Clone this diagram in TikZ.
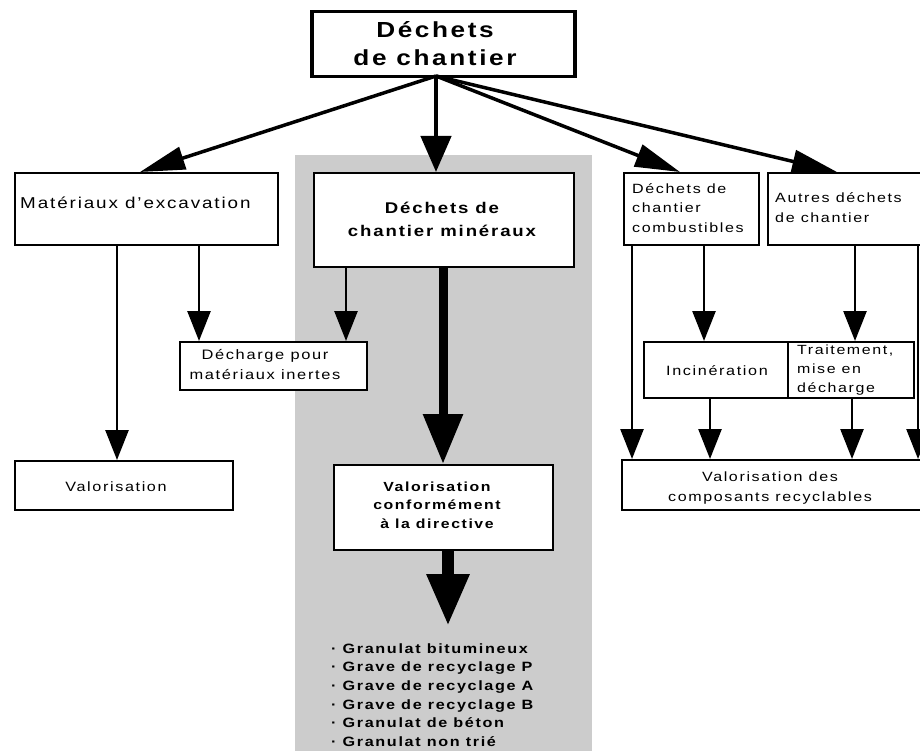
\documentclass[tikz,border=0pt]{standalone}
\usepackage{fontspec}
\setmainfont[FakeStretch=1.2,LetterSpace=12]{Liberation Sans}
\usetikzlibrary{arrows.meta}
\definecolor{bandgray}{HTML}{CCCCCC}
\newcommand{\fsz}[2]{\fontsize{#1}{#2}\selectfont}
\begin{document}
\begin{tikzpicture}[x=1pt,y=-1pt,
  box/.style={draw=black, line width=1.8pt, fill=white, inner sep=0pt, anchor=north west},
  lbl/.style={inner sep=0pt, text=black},
  thinarr/.style={line width=2.6pt, -{Triangle[length=30pt,width=23pt]}},
  diagarr/.style={line width=3.5pt, -{Triangle[length=45pt,width=23pt]}},
  mainarr/.style={line width=4.5pt, -{Triangle[length=36pt,width=30pt]}},
  bigarrA/.style={line width=9pt, -{Triangle[length=50pt,width=38pt]}},
  bigarrB/.style={line width=12pt, -{Triangle[length=52pt,width=40pt]}},
]
\useasboundingbox (0,0) rectangle (920,751);
\clip (0,0) rectangle (920,751);
\fill[bandgray] (295,155) rectangle (592,760);

% boxes
\node[box, line width=3.5pt, minimum width=263pt, minimum height=65pt] (top) at (310,10) {};
\node[box, minimum width=263pt, minimum height=72pt] (excav) at (14,172) {};
\node[box, minimum width=260pt, minimum height=94pt] (mineral) at (313,172) {};
\node[box, minimum width=135pt, minimum height=72pt] (comb) at (623,172) {};
\node[box, minimum width=170pt, minimum height=72pt] (autres) at (767,172) {};
\node[box, minimum width=187pt, minimum height=48pt] (decharge) at (179,341) {};
\node[box, minimum width=144pt, minimum height=56pt] (incin) at (643,341) {};
\node[box, minimum width=126pt, minimum height=56pt] (trait) at (787,341) {};
\node[box, minimum width=218pt, minimum height=49pt] (valL) at (14,460) {};
\node[box, minimum width=219pt, minimum height=85pt] (valconf) at (333,464) {};
\node[box, minimum width=320pt, minimum height=50pt] (valcomp) at (621,459) {};

% texts
\node[lbl, font=\bfseries\fsz{21.8}{28}, align=center] (ttop) at (435,44) {Déchets\\de chantier};
\node[lbl, font=\fsz{15.7}{18}, anchor=west] (tmat) at (20,203) {Matériaux d'excavation};
\node[lbl, font=\bfseries\fsz{15.5}{23}, align=center] (tmin) at (442,219) {Déchets de\\chantier minéraux};
\node[lbl, font=\fsz{13.4}{19.5}, align=left, anchor=west] (tcomb) at (632,208) {Déchets de\\chantier\\combustibles};
\node[lbl, font=\fsz{13.4}{19.5}, align=left, anchor=west] (taut) at (775,207.5) {Autres déchets\\de chantier};
\node[lbl, font=\fsz{13.7}{20}, align=center] (tdech) at (265,365) {Décharge pour\\matériaux inertes};
\node[lbl, font=\fsz{13.5}{19}] (tinc) at (717,371) {Incinération};
\node[lbl, font=\fsz{13.3}{19}, align=left, anchor=west] (ttrait) at (797,370) {Traitement,\\mise en\\décharge};
\node[lbl, font=\fsz{13.5}{19}] (tvalL) at (116,487) {Valorisation};
\node[lbl, font=\bfseries\fsz{13.2}{18.5}, align=center] (tvalconf) at (437,505) {Valorisation\\conformément\\à la directive};
\node[lbl, font=\fsz{13.4}{20}, align=center] (tvalcomp) at (770,488) {Valorisation des\\composants recyclables};
\node[lbl, font=\bfseries\fsz{13.5}{18.6}, align=left, anchor=west] (list) at (331,695) {· Granulat bitumineux\\· Grave de recyclage P\\· Grave de recyclage A\\· Grave de recyclage B\\· Granulat de béton\\· Granulat non trié};

% connectors
\coordinate (hub) at (436,76);
\draw[diagarr] (hub) -- (excav.north -| 140,0);
\draw[mainarr] (hub) -- (mineral.north -| hub);
\draw[diagarr] (hub) -- (comb.north -| 680,0);
\draw[diagarr] (hub) -- (autres.north -| 837,0);

\draw[thinarr] (excav.south -| 117,0) -- (valL.north -| 117,0);
\draw[thinarr] (excav.south -| 199,0) -- (decharge.north -| 199,0);
\draw[thinarr] (mineral.south -| 346,0) -- (decharge.north -| 346,0);
\draw[bigarrA] (mineral.south -| 443,0) -- (valconf.north -| 443,0);
\coordinate (listtop) at (448,626);
\draw[bigarrB] (valconf.south -| 448,0) -- (listtop);
\draw[thinarr] (comb.south -| 632,0) -- (valcomp.north -| 632,0);
\draw[thinarr] (comb.south -| 704,0) -- (incin.north -| 704,0);
\draw[thinarr] (autres.south -| 855,0) -- (trait.north -| 855,0);
\draw[thinarr] (incin.south -| 710,0) -- (valcomp.north -| 710,0);
\draw[thinarr] (trait.south -| 852,0) -- (valcomp.north -| 852,0);
\draw[thinarr] (autres.south -| 918,0) -- (valcomp.north -| 918,0);
\end{tikzpicture}
\end{document}
